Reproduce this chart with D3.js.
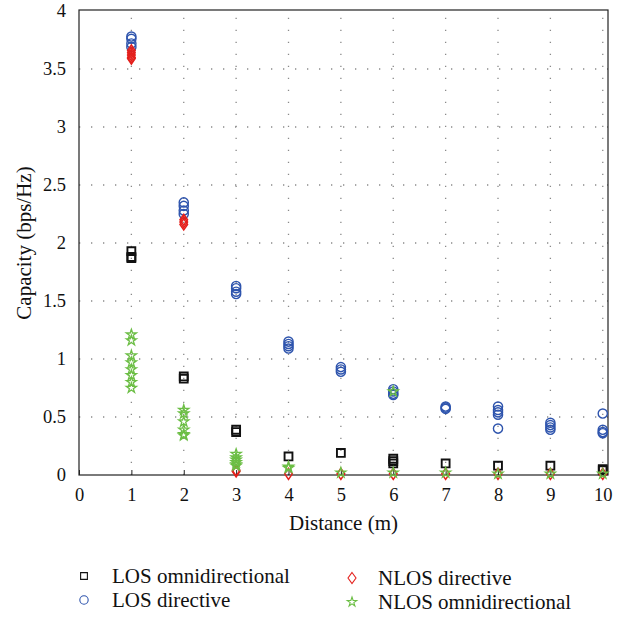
<!DOCTYPE html>
<html>
<head>
<meta charset="utf-8">
<script src="https://cdn.jsdelivr.net/npm/d3@7"></script>
<style>
  html, body { margin: 0; padding: 0; background: #fff; }
  svg { display: block; }
  svg text { font-family: "Liberation Serif", "DejaVu Serif", serif; fill: #111; }
</style>
</head>
<body>
<svg id="chart" width="625" height="617"></svg>
<script>
// Distances (m) at which capacity was measured
const distances = [1, 2, 3, 4, 5, 6, 7, 8, 9, 10];

// Capacity samples (bps/Hz) per distance, one inner list per distance
const losOmni = [
  [1.93, 1.88, 1.87],
  [0.85, 0.83],
  [0.39, 0.37],
  [0.16],
  [0.19],
  [0.14, 0.12, 0.10],
  [0.10],
  [0.08],
  [0.08],
  [0.05, 0.04]
];
const losDirective = [
  [3.78, 3.76, 3.72, 3.69],
  [2.35, 2.32, 2.28, 2.25],
  [1.63, 1.61, 1.58, 1.56],
  [1.15, 1.13, 1.11, 1.09],
  [0.93, 0.91, 0.89],
  [0.74, 0.72, 0.70, 0.69],
  [0.59, 0.58, 0.57],
  [0.59, 0.56, 0.54, 0.52, 0.40],
  [0.45, 0.43, 0.41, 0.39],
  [0.53, 0.39, 0.37, 0.36]
];
const nlosDirective = [
  [3.66, 3.64, 3.62, 3.60, 3.59],
  [2.20, 2.18, 2.16],
  [0.04, 0.03],
  [0.01],
  [0.01],
  [0.01],
  [0.01],
  [0.01],
  [0.01],
  [0.01]
];
const nlosOmni = [
  [1.21, 1.16, 1.03, 0.97, 0.91, 0.86, 0.80, 0.75],
  [0.56, 0.53, 0.46, 0.39, 0.35, 0.34],
  [0.18, 0.15, 0.13, 0.11, 0.09, 0.08],
  [0.07, 0.06],
  [0.02],
  [0.72, 0.02],
  [0.02],
  [0.01],
  [0.01],
  [0.01]
];

const xTicks = [0, 1, 2, 3, 4, 5, 6, 7, 8, 9, 10];
const yTicks = [0, 0.5, 1, 1.5, 2, 2.5, 3, 3.5, 4];

const FONT = '"Liberation Serif", "DejaVu Serif", serif';

const svg = d3.select("#chart");
const plotL = 79, plotR = 608, plotT = 11, plotB = 475;

const x = d3.scaleLinear().domain([0, 10.1]).range([plotL, plotR]);
const y = d3.scaleLinear().domain([0, 4]).range([plotB, plotT]);

// dotted grid
const grid = svg.append("g").attr("stroke", "#8a8a8a").attr("stroke-width", 1.3)
  .attr("stroke-dasharray", "1.3,10.7");
grid.selectAll("line.v").data(xTicks.slice(1)).join("line")
  .attr("x1", d => x(d)).attr("x2", d => x(d))
  .attr("y1", plotB).attr("y2", plotT);
grid.selectAll("line.h").data(yTicks.slice(1, -1)).join("line")
  .attr("x1", plotL).attr("x2", plotR)
  .attr("y1", d => y(d)).attr("y2", d => y(d));

// frame
svg.append("rect").attr("x", plotL).attr("y", y(4) - 1)
  .attr("width", plotR - plotL).attr("height", plotB - y(4) + 1)
  .attr("fill", "none").attr("stroke", "#222").attr("stroke-width", 1.2);

// axes
const xAxis = svg.append("g").attr("transform", `translate(0,${plotB})`)
  .call(d3.axisBottom(x).tickValues(xTicks).tickSize(-5).tickPadding(13).tickFormat(d3.format("d")));
const yAxis = svg.append("g").attr("transform", `translate(${plotL},0)`)
  .call(d3.axisLeft(y).tickValues(yTicks).tickSize(0).tickPadding(13).tickFormat(d => d3.format("")(d)));
[xAxis, yAxis].forEach(a => {
  a.attr("font-family", FONT);
  a.select(".domain").remove();
  a.selectAll("line").attr("stroke", "#222");
  a.selectAll("text").attr("font-size", 18.5).style("font-family", FONT).attr("fill", "#111");
});

svg.append("text").attr("x", (plotL + plotR) / 2).attr("y", 530)
  .attr("text-anchor", "middle").attr("font-size", 21).style("font-family", FONT).text("Distance (m)");
svg.append("text").attr("transform", `translate(31,${(plotT + plotB) / 2}) rotate(-90)`)
  .attr("text-anchor", "middle").attr("font-size", 21).style("font-family", FONT).text("Capacity (bps/Hz)");

// series definitions
const series = [
  { data: losOmni, symbol: d3.symbolSquare, size: 62, color: "#111", width: 1.9 },
  { data: nlosOmni, symbol: d3.symbolStar, size: 32, color: "#6cbe45", width: 1.3 },
  { data: nlosDirective, symbol: "diamond", size: 0, color: "#e4201c", width: 1.5 },
  { data: losDirective, symbol: d3.symbolCircle, size: 66, color: "#2e54ad", width: 1.4 }
];

function markPath(s) {
  if (s.symbol === "diamond") return "M0,-5.5L3.8,0L0,5.5L-3.8,0Z";
  return d3.symbol().type(s.symbol).size(s.size)();
}

function flatten(arr) {
  const out = [];
  arr.forEach((vals, i) => vals.forEach(v => out.push({ d: distances[i], v })));
  return out;
}

const drawOrder = [series[0], series[3], series[2], series[1]];
drawOrder.forEach(s => {
  svg.append("g").selectAll("path").data(flatten(s.data)).join("path")
    .attr("d", markPath(s))
    .attr("transform", p => `translate(${x(p.d)},${y(p.v)})`)
    .attr("fill", "none").attr("stroke", s.color).attr("stroke-width", s.width);
});

// legend
const legendItems = [
  { s: series[0], label: "LOS omnidirectional", lx: 84, ly: 576, gap: 28, mark: d3.symbol().type(d3.symbolSquare).size(46)() },
  { s: series[3], label: "LOS directive", lx: 84, ly: 600, gap: 28, mark: d3.symbol().type(d3.symbolCircle).size(55)() },
  { s: series[2], label: "NLOS directive", lx: 352, ly: 578, gap: 26, mark: "M0,-5.5L4,0L0,5.5L-4,0Z" },
  { s: series[1], label: "NLOS omnidirectional", lx: 352, ly: 602, gap: 26, mark: d3.symbol().type(d3.symbolStar).size(28)() }
];
const lg = svg.append("g");
legendItems.forEach(it => {
  lg.append("path")
    .attr("d", it.mark)
    .attr("transform", `translate(${it.lx},${it.ly})`)
    .attr("fill", "none").attr("stroke", it.s.color)
    .attr("stroke-width", 1.1);
  lg.append("text").attr("x", it.lx + it.gap).attr("y", it.ly + 7)
    .attr("font-size", 21).style("font-family", FONT).text(it.label);
});
</script>
</body>
</html>
